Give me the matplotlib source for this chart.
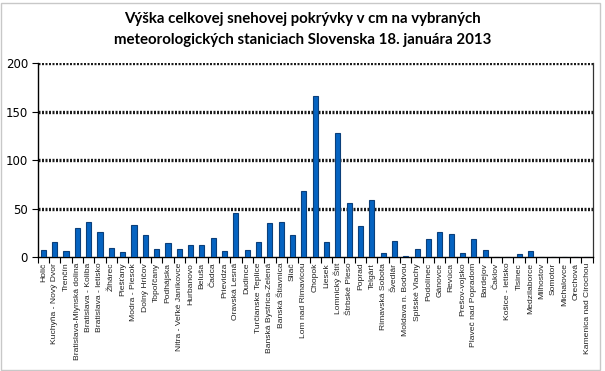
import matplotlib
matplotlib.use("Agg")
import matplotlib.pyplot as plt
from matplotlib.patches import Rectangle
import numpy as np

stations = [
    "Holič", "Kuchyňa - Nový Dvor", "Trenčín", "Bratislava-Mlynská dolina",
    "Bratislava - Koliba", "Bratislava - letisko", "Žihárec", "Piešťany",
    "Modra - Piesok", "Dolný Hričov", "Topoľčany", "Podhájska",
    "Nitra - Veľké Janíkovce", "Hurbanovo", "Beluša", "Čadca", "Prievidza",
    "Oravská Lesná", "Dudince", "Turčianske Teplice", "Banská Bystrica-Zelená",
    "Banská Štiavnica", "Sliač", "Lom nad Rimavicou", "Chopok", "Liesek",
    "Lomnický Štít", "Štrbské Pleso", "Poprad", "Telgárt", "Rimavská Sobota",
    "Švedlár", "Moldava n. Bodvou", "Spišské Vlachy", "Podolínec", "Gánovce",
    "Revúca", "Prešov-vojsko", "Plaveč nad Popradom", "Bardejov", "Čaklov",
    "Košice - letisko", "Tisinec", "Medzilaborce", "Milhostov", "Somotor",
    "Michalovce", "Orechová", "Kamenica nad Cirochou",
]
snow_cm = [
    7, 16, 6, 30, 36, 26, 10, 5, 33, 23, 9, 15, 9, 13, 13, 20, 6, 46, 7, 16,
    35, 36, 23, 68, 166, 16, 128, 56, 32, 59, 4, 17, 1, 9, 19, 26, 24, 4, 19,
    8, 0, 0, 3, 6, 0, 0, 0, 0, 0,
]
yticks = [0, 50, 100, 150, 200]
title = ("Výška celkovej snehovej pokrývky v cm na vybraných\n"
         "meteorologických staniciach Slovenska 18. januára 2013")

fig = plt.figure(figsize=(6.05, 3.71), dpi=100)
W, H = 605, 371
ax = fig.add_axes([37.7 / W, 1 - 257.3 / H, (592.7 - 37.7) / W, (257.3 - 63) / H])

x = np.arange(len(stations))
ax.bar(x, snow_cm, width=0.45, color="#0563C1", edgecolor="#0B3F7A",
       linewidth=0.8, zorder=3)

ax.set_xlim(-0.5, len(stations) - 0.5)
ax.set_ylim(0, 200)
ax.set_yticks(yticks)
ax.set_yticklabels([str(v) for v in yticks], fontsize=8.5, family="DejaVu Sans")
for v in yticks[1:]:
    ax.axhline(v, color="#1a1a1a", linewidth=2.4, linestyle=(0, (0.6, 0.45)),
               zorder=2)

ax.set_xticks(x)
ax.set_xticklabels(stations, rotation=90, fontsize=6.1,
                   family="Liberation Sans", color="#222222")
ax.tick_params(axis="x", which="major", length=0, pad=4)
ax.set_xticks(np.arange(-0.5, len(stations), 1.0), minor=True)
ax.tick_params(axis="x", which="minor", length=4, width=0.8, direction="out")
ax.tick_params(axis="y", length=4, width=0.8, direction="out", pad=3)

ax.spines["top"].set_visible(False)
ax.spines["right"].set_color("#333333")
ax.spines["right"].set_linewidth(0.9)
ax.spines["left"].set_linewidth(1.0)
ax.spines["bottom"].set_linewidth(1.0)

fig.text(0.5, 1 - 29.5 / H, title, ha="center", va="center", fontsize=10.8,
         family="Lato", fontweight="bold", linespacing=1.55)

fig.patches.append(Rectangle((0.5 / W, 1.5 / H), 599 / W, 367 / H,
                             transform=fig.transFigure, fill=False,
                             edgecolor="#c8c8c8", linewidth=1.0))

fig.savefig("out.png", dpi=100)
